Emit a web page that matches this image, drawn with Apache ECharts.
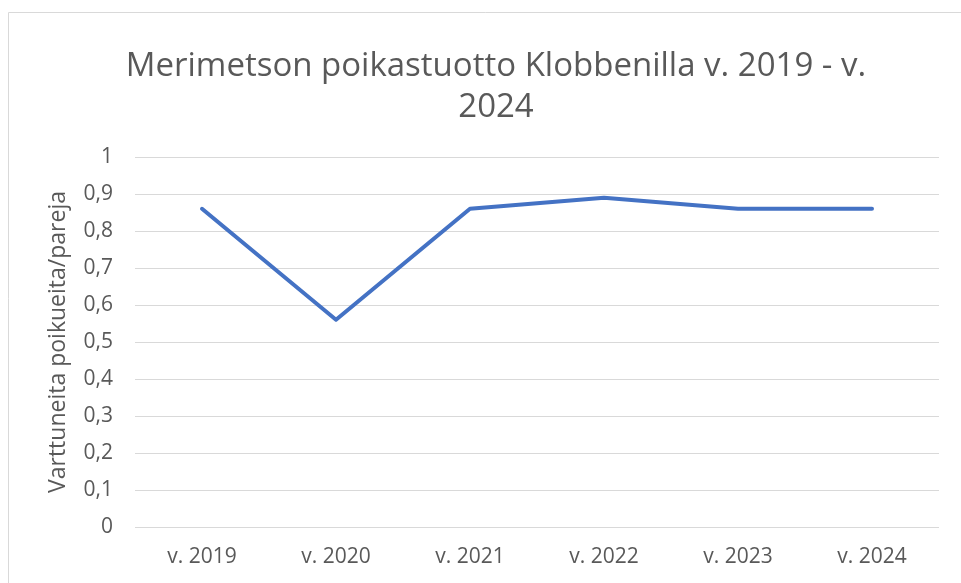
<!DOCTYPE html>
<html>
<head>
<meta charset="utf-8">
<script src="https://cdn.jsdelivr.net/npm/echarts@6/dist/echarts.min.js"></script>
<style>
  html, body { margin: 0; padding: 0; background: #fff; }
  #chart { width: 961px; height: 583px; }
</style>
</head>
<body>
<div id="chart"></div>
<script>
// vuodet ja poikastuotto
var years = ['v. 2019', 'v. 2020', 'v. 2021', 'v. 2022', 'v. 2023', 'v. 2024']
var broodsPerPair = [0.86, 0.56, 0.86, 0.89, 0.86, 0.86]
var yTicks = [0, 0.1, 0.2, 0.3, 0.4, 0.5, 0.6, 0.7, 0.8, 0.9, 1]

var font = '"Open Sans", Lato, sans-serif'
var chart = echarts.init(document.getElementById('chart'))

var option = {
  animation: false,
  graphic: [{
    type: 'rect',
    shape: { x: 8.5, y: 12.5, width: 1000, height: 1000 },
    style: { fill: 'none', stroke: '#d9d9d9', lineWidth: 1 }
  }],
  title: {
    text: 'Merimetson poikastuotto Klobbenilla v. 2019 - v.\n2024',
    left: 491,
    textAlign: 'center',
    top: 41,
    textStyle: { fontFamily: font, fontSize: 33, fontWeight: 'normal', color: '#595959', lineHeight: 41 }
  },
  grid: { left: 135, right: 22, top: 157, bottom: 56 },
  xAxis: {
    type: 'category',
    data: years,
    boundaryGap: true,
    axisLine: { show: false },
    axisTick: { show: false },
    axisLabel: { fontFamily: font, fontSize: 21, color: '#595959', margin: 20 }
  },
  yAxis: {
    type: 'value',
    min: 0,
    max: 1,
    interval: 0.1,
    name: 'Varttuneita poikueita/pareja',
    nameLocation: 'middle',
    nameGap: 65,
    nameTextStyle: { fontFamily: font, fontSize: 23, color: '#595959' },
    axisLine: { show: false },
    axisTick: { show: false },
    splitLine: { lineStyle: { color: '#d9d9d9', width: 1 } },
    axisLabel: {
      fontFamily: font,
      fontSize: 21,
      color: '#595959',
      margin: 22,
      formatter: function (v) {
        var t = yTicks.find(function (x) { return Math.abs(x - v) < 1e-9 })
        return String(t !== undefined ? t : v).replace('.', ',')
      }
    }
  },
  series: [{
    type: 'line',
    data: broodsPerPair,
    symbol: 'none',
    lineStyle: { color: '#4472C4', width: 4, cap: 'round', join: 'round' }
  }]
}
chart.setOption(option)
</script>
</body>
</html>
